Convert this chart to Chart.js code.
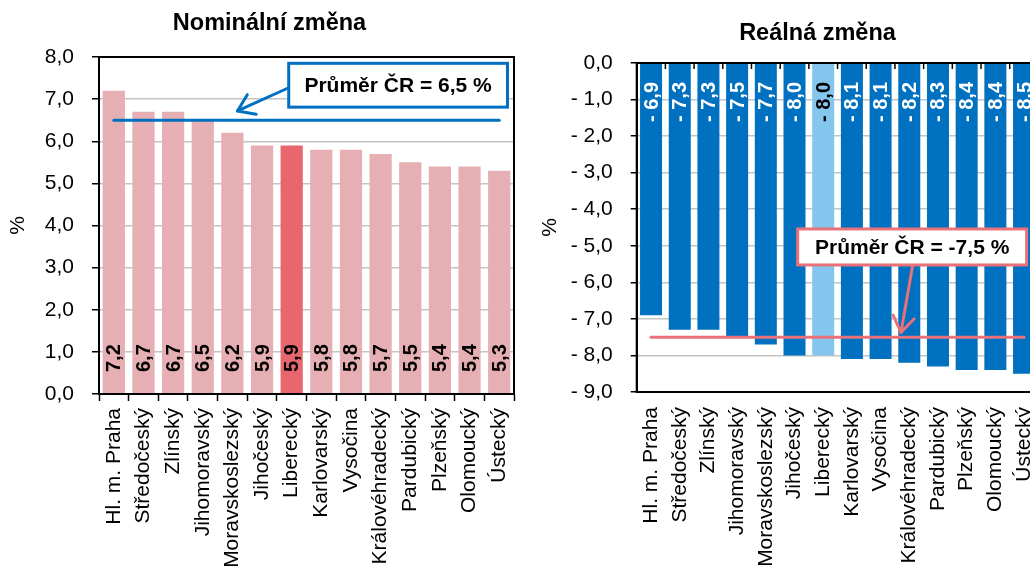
<!DOCTYPE html>
<html><head><meta charset="utf-8">
<script src="https://cdn.jsdelivr.net/npm/chart.js@4/dist/chart.umd.min.js"></script>
<style>
html,body{margin:0;padding:0;overflow:hidden;background:#fff;width:1030px;height:566px;}
#c1{position:absolute;left:0;top:0;}
#c2{position:absolute;left:520px;top:0;}
</style></head><body>
<canvas id="c2" width="595" height="566"></canvas>
<canvas id="c1" width="539" height="566"></canvas>
<script>
const regions = ['Hl. m. Praha','Středočeský','Zlínský','Jihomoravský','Moravskoslezský','Jihočeský','Liberecký','Karlovarský','Vysočina','Královéhradecký','Pardubický','Plzeňský','Olomoucký','Ústecký'];
const nominal = [7.2,6.7,6.7,6.5,6.2,5.9,5.9,5.8,5.8,5.7,5.5,5.4,5.4,5.3];
const real = [-6.9,-7.3,-7.3,-7.5,-7.7,-8.0,-8.0,-8.1,-8.1,-8.2,-8.3,-8.4,-8.4,-8.5];
const nominalAvg = [6.5,6.5,6.5,6.5,6.5,6.5,6.5,6.5,6.5,6.5,6.5,6.5,6.5,6.5];
const realAvg = [-7.5,-7.5,-7.5,-7.5,-7.5,-7.5,-7.5,-7.5,-7.5,-7.5,-7.5,-7.5,-7.5,-7.5];
const highlighted = 'Liberecký';
const nominalTitle = 'Nominální změna';
const realTitle = 'Reálná změna';
const nominalNote = 'Průměr ČR = 6,5 %';
const realNote = 'Průměr ČR = -7,5 %';

const FAM = '"Liberation Sans", Arial, Helvetica, sans-serif';
function fmt(v){
  const s = Math.abs(v).toFixed(1).replace('.', ',');
  return v < -1e-9 ? '- ' + s : s;
}

function drawArrow(ctx, x1, y1, x2, y2, color, w){
  ctx.save();
  ctx.strokeStyle = color; ctx.lineWidth = w; ctx.lineCap = 'round'; ctx.lineJoin = 'round';
  ctx.beginPath(); ctx.moveTo(x1, y1); ctx.lineTo(x2, y2); ctx.stroke();
  const ang = Math.atan2(y2 - y1, x2 - x1), L = 19, s = 0.6;
  ctx.beginPath();
  ctx.moveTo(x2 - L * Math.cos(ang - s), y2 - L * Math.sin(ang - s));
  ctx.lineTo(x2, y2);
  ctx.lineTo(x2 - L * Math.cos(ang + s), y2 - L * Math.sin(ang + s));
  ctx.stroke();
  ctx.restore();
}

const deco = {
  id: 'deco',
  afterDatasetsDraw(chart, args, o) {
    const ctx = chart.ctx, a = chart.chartArea;
    const ds = chart.data.datasets[o.barIndex];
    const meta = chart.getDatasetMeta(o.barIndex);
    ctx.save();
    ctx.font = 'bold 20px ' + FAM;
    meta.data.forEach((bar, i) => {
      ctx.save();
      ctx.translate(bar.x + 1, o.labelAtTop ? a.top + o.labelOffset : a.bottom - o.labelOffset);
      ctx.rotate(-Math.PI / 2);
      ctx.textAlign = o.labelAtTop ? 'right' : 'left';
      ctx.textBaseline = 'middle';
      ctx.fillStyle = o.labelColors[i];
      ctx.fillText(fmt(ds.data[i]), 0, 0);
      ctx.restore();
    });
    ctx.restore();
  },
  afterDraw(chart, args, o) {
    const ctx = chart.ctx, a = chart.chartArea, xs = chart.scales.x, ys = chart.scales.y;
    ctx.save();
    // chart title
    ctx.fillStyle = '#000';
    ctx.font = 'bold 23.5px ' + FAM;
    ctx.textAlign = 'center'; ctx.textBaseline = 'alphabetic';
    ctx.fillText(o.title.text, o.title.x, o.title.y);
    // inward category ticks on top axis
    if (o.topTicks) {
      ctx.strokeStyle = '#000'; ctx.lineWidth = 1.5;
      for (let i = 0; i <= chart.data.labels.length; i++) {
        const x = xs.getPixelForValue(i - 0.5);
        ctx.beginPath(); ctx.moveTo(x, a.top); ctx.lineTo(x, a.top + 6); ctx.stroke();
      }
    }
    // frame
    ctx.strokeStyle = '#000'; ctx.lineWidth = 2;
    ctx.strokeRect(a.left, a.top, a.right - a.left, a.bottom - a.top);
    // annotation arrow
    const n = o.note;
    drawArrow(ctx, xs.getPixelForValue(n.from[0]), ys.getPixelForValue(n.from[1]),
      xs.getPixelForValue(n.to[0]), ys.getPixelForValue(n.to[1]), n.color, 3);
    // box
    const bx1 = xs.getPixelForValue(n.box[0]), bx2 = xs.getPixelForValue(n.box[1]);
    const by1 = ys.getPixelForValue(n.box[2]), by2 = ys.getPixelForValue(n.box[3]);
    ctx.fillStyle = '#fff';
    ctx.fillRect(bx1, by1, bx2 - bx1, by2 - by1);
    ctx.strokeStyle = n.color; ctx.lineWidth = 3;
    ctx.strokeRect(bx1, by1, bx2 - bx1, by2 - by1);
    ctx.fillStyle = '#000';
    ctx.font = 'bold 21px ' + FAM;
    ctx.textAlign = 'center'; ctx.textBaseline = 'middle';
    ctx.fillText(n.text, (bx1 + bx2) / 2, (by1 + by2) / 2 + 1);
    ctx.restore();
  }
};

function tickFont(){ return {family: FAM, size: 21}; }

new Chart(document.getElementById('c1'), {
  type: 'bar',
  data: {
    labels: regions,
    datasets: [
      {type: 'line', data: nominalAvg, borderColor: '#0070C0', borderWidth: 3, pointRadius: 0, borderCapStyle: 'round', order: 0},
      {type: 'bar', data: nominal, backgroundColor: regions.map(r => r === highlighted ? '#E8676F' : '#E6AFB3'),
       barPercentage: 0.75, categoryPercentage: 1, order: 1}
    ]
  },
  options: {
    responsive: false, animation: false, devicePixelRatio: 1,
    layout: {padding: {left: 0, right: 25, top: 57, bottom: 0}},
    plugins: {
      legend: {display: false}, tooltip: {enabled: false}, title: {display: false},
      deco: {
        barIndex: 1, labelAtTop: false, labelOffset: 22,
        title: {text: nominalTitle, x: 269.5, y: 30},
        labelColors: regions.map(() => '#000'),
        note: {text: nominalNote, color: '#0070C0', box: [5.9, 13.28, 7.85, 6.81], from: [5.9, 7.27], to: [4.17, 6.72]}
      }
    },
    scales: {
      x: {
        grid: {display: true, drawOnChartArea: false, drawTicks: true, tickLength: 7, tickColor: '#000', tickWidth: 1.5, offset: true},
        border: {display: true, color: '#000', width: 2},
        ticks: {autoSkip: false, maxRotation: 90, minRotation: 90, color: '#000', font: tickFont(), padding: 7},
        afterFit: s => { s.height = 172; }
      },
      y: {
        min: 0, max: 8,
        ticks: {stepSize: 1, callback: v => fmt(v), color: '#000', font: tickFont(), padding: 18},
        grid: {color: '#C4C4C4', lineWidth: 1.5, tickColor: '#000', tickLength: 7, tickWidth: 1.5},
        border: {color: '#000', width: 2},
        title: {display: true, text: '%', color: '#000', font: tickFont(), padding: {top: 6, bottom: 0}},
        afterFit: s => { s.width = 99; }
      }
    }
  },
  plugins: [deco]
});

new Chart(document.getElementById('c2'), {
  type: 'bar',
  data: {
    labels: regions,
    datasets: [
      {type: 'line', data: realAvg, borderColor: '#E8717A', borderWidth: 3, pointRadius: 0, borderCapStyle: 'round', order: 0},
      {type: 'bar', data: real, backgroundColor: regions.map(r => r === highlighted ? '#85C6EE' : '#0070C0'),
       barPercentage: 0.767, categoryPercentage: 1, order: 1}
    ]
  },
  options: {
    responsive: false, animation: false, devicePixelRatio: 1,
    layout: {padding: {left: 0, right: 76.6, top: 63, bottom: 0}},
    plugins: {
      legend: {display: false}, tooltip: {enabled: false}, title: {display: false},
      deco: {
        barIndex: 1, labelAtTop: true, labelOffset: 19, topTicks: true,
        title: {text: realTitle, x: 297.5, y: 40},
        labelColors: regions.map(r => r === highlighted ? '#000' : '#fff'),
        note: {text: realNote, color: '#E8717A', box: [5.11, 13.09, -4.54, -5.525], from: [9.12, -5.525], to: [8.71, -7.37]}
      }
    },
    scales: {
      x: {
        grid: {display: true, drawOnChartArea: false, drawTicks: true, tickLength: 7, tickColor: 'rgba(0,0,0,0)', offset: true},
        border: {display: true, color: '#000', width: 2},
        ticks: {autoSkip: false, maxRotation: 90, minRotation: 90, color: '#000', font: tickFont(), padding: 8},
        afterFit: s => { s.height = 174; }
      },
      y: {
        min: -9, max: 0,
        ticks: {stepSize: 1, callback: v => fmt(v), color: '#000', font: tickFont(), padding: 18},
        grid: {color: '#C4C4C4', lineWidth: 1.5, tickColor: '#000', tickLength: 6, tickWidth: 1.5},
        border: {color: '#000', width: 2},
        title: {display: true, text: '%', color: '#000', font: tickFont(), padding: {top: 18, bottom: 0}},
        afterFit: s => { s.width = 116.7; }
      }
    }
  },
  plugins: [deco]
});
</script>
</body></html>
